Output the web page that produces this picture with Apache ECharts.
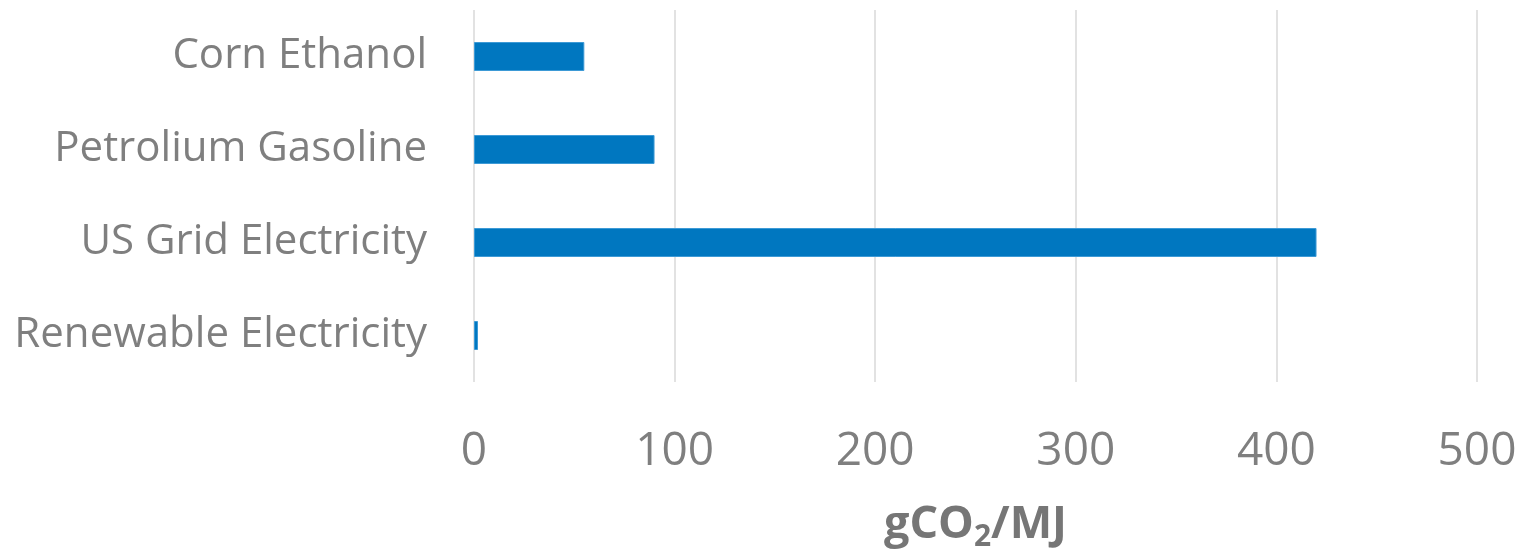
<!DOCTYPE html>
<html><head><meta charset="utf-8">
<script src="https://cdn.jsdelivr.net/npm/echarts@6/dist/echarts.min.js"></script>
<style>html,body{margin:0;padding:0;background:#fff}#c{width:1521px;height:553px}</style>
</head><body><div id="c"></div>
<script>
const categories = ["Renewable Electricity", "US Grid Electricity", "Petrolium Gasoline", "Corn Ethanol"];
const values = [2, 420, 90, 55];
const xTicks = [0, 100, 200, 300, 400, 500];

const chart = echarts.init(document.getElementById('c'), null, {renderer: 'canvas'});
chart.setOption({
  animation: false,
  grid: {left: 474, right: 44, top: 10, bottom: 171, containLabel: false, outerBoundsMode: 'none'},
  xAxis: {
    type: 'value', min: xTicks[0], max: xTicks[xTicks.length - 1], interval: 100,
    axisLine: {show: false}, axisTick: {show: false},
    splitLine: {show: true, lineStyle: {color: '#d9d9d9', width: 1.5}},
    axisLabel: {color: '#7f7f7f', fontSize: 46, fontFamily: 'Open Sans', margin: 47},
    name: '{b|gCO}{s|2}{b|/MJ}', nameLocation: 'middle', nameGap: 116,
    nameTextStyle: {
      rich: {
        b: {fontSize: 45, fontWeight: 'bold', color: '#767676', fontFamily: 'Open Sans'},
        s: {fontSize: 30, fontWeight: 'bold', color: '#767676', fontFamily: 'Open Sans', padding: [24, 0, 0, 0]}
      }
    }
  },
  yAxis: {
    type: 'category', data: categories,
    axisLine: {show: false}, axisTick: {show: false},
    axisLabel: {color: '#7f7f7f', fontSize: 42, fontFamily: 'Open Sans', margin: 47, padding: [8, 0, 0, 0]}
  },
  series: [{
    type: 'bar', data: values, barWidth: 29,
    itemStyle: {color: '#0077c0', borderColor: '#3d9ad6', borderWidth: 1}
  }]
});
</script></body></html>
